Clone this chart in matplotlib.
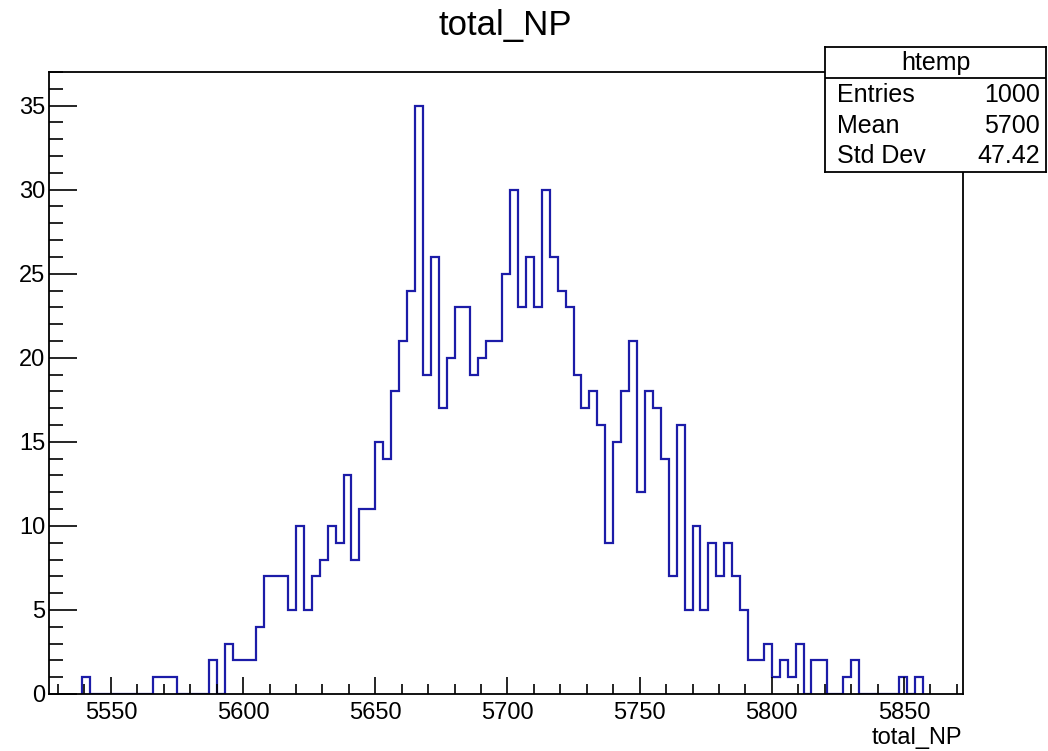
import matplotlib
matplotlib.use("Agg")
import matplotlib.pyplot as plt
import numpy as np
from matplotlib.ticker import MultipleLocator

plt.rcParams['font.family'] = ['Liberation Sans', 'DejaVu Sans']

# histogram contents (106 bins, width 3, starting at 5539)
counts = [1, 0, 0, 0, 0, 0, 0, 0, 0, 1, 1, 1, 0, 0, 0, 0, 2, 0, 3, 2, 2, 2, 4,
          7, 7, 7, 5, 10, 5, 7, 8, 10, 9, 13, 8, 11, 11, 15, 14, 18, 21, 24, 35,
          19, 26, 17, 20, 23, 23, 19, 20, 21, 21, 25, 30, 23, 26, 23, 30, 26, 24,
          23, 19, 17, 18, 16, 9, 15, 18, 21, 12, 18, 17, 14, 7, 16, 5, 10, 5, 9,
          7, 9, 7, 5, 2, 2, 3, 1, 2, 1, 3, 0, 2, 2, 0, 0, 1, 2, 0, 0, 0, 0, 0, 1,
          0, 1]
bin_start = 5539
bin_width = 3
x_range = (5526.7, 5872.2)
y_range = (0, 37)

title = "total_NP"
x_label = "total_NP"
stats_name = "htemp"
stats_labels = ["Entries", "Mean", "Std Dev"]
stats_values = ["1000", "5700", "47.42"]

edges = bin_start + bin_width * np.arange(len(counts) + 1)

fig = plt.figure(figsize=(10.48, 7.51), dpi=100)
W, H = 1048, 751
ax = fig.add_axes([49.3 / W, 1 - 694 / H, (962.7 - 49.3) / W, (694 - 72) / H])

ax.stairs(counts, edges, color='#1c1ca8', linewidth=1.6)

ax.set_xlim(*x_range)
ax.set_ylim(*y_range)

ax.xaxis.set_major_locator(MultipleLocator(50))
ax.xaxis.set_minor_locator(MultipleLocator(10))
ax.yaxis.set_major_locator(MultipleLocator(5))
ax.yaxis.set_minor_locator(MultipleLocator(1))

ax.tick_params(axis='x', which='major', direction='in', length=12.5, width=1.2,
               labelsize=17, pad=6)
ax.tick_params(axis='x', which='minor', direction='in', length=7, width=1.2)
ax.tick_params(axis='y', which='major', direction='in', length=20, width=1.2,
               labelsize=17, pad=3)
ax.tick_params(axis='y', which='minor', direction='in', length=10, width=1.2)
for s in ax.spines.values():
    s.set_linewidth(1.3)

fig.text(505 / W, 1 - 25 / H, title, ha='center', va='center', fontsize=25)
fig.text(962 / W, 1 - 738 / H, x_label, ha='right', va='center', fontsize=17)

# stats box
sb = fig.add_axes([825 / W, 1 - 172 / H, 221 / W, 125 / H])
sb.set_xlim(0, 1)
sb.set_ylim(0, 1)
sb.set_xticks([])
sb.set_yticks([])
for s in sb.spines.values():
    s.set_linewidth(1.3)
sb.axhline(0.754, color='black', linewidth=1.3)
sb.text(0.5, 0.87, stats_name, ha='center', va='center', fontsize=18)
row_y = [0.616, 0.365, 0.13]
for lab, val, yy in zip(stats_labels, stats_values, row_y):
    sb.text(0.056, yy, lab, ha='left', va='center', fontsize=18)
    sb.text(0.973, yy, val, ha='right', va='center', fontsize=18)

plt.savefig("out.png", dpi=100)
